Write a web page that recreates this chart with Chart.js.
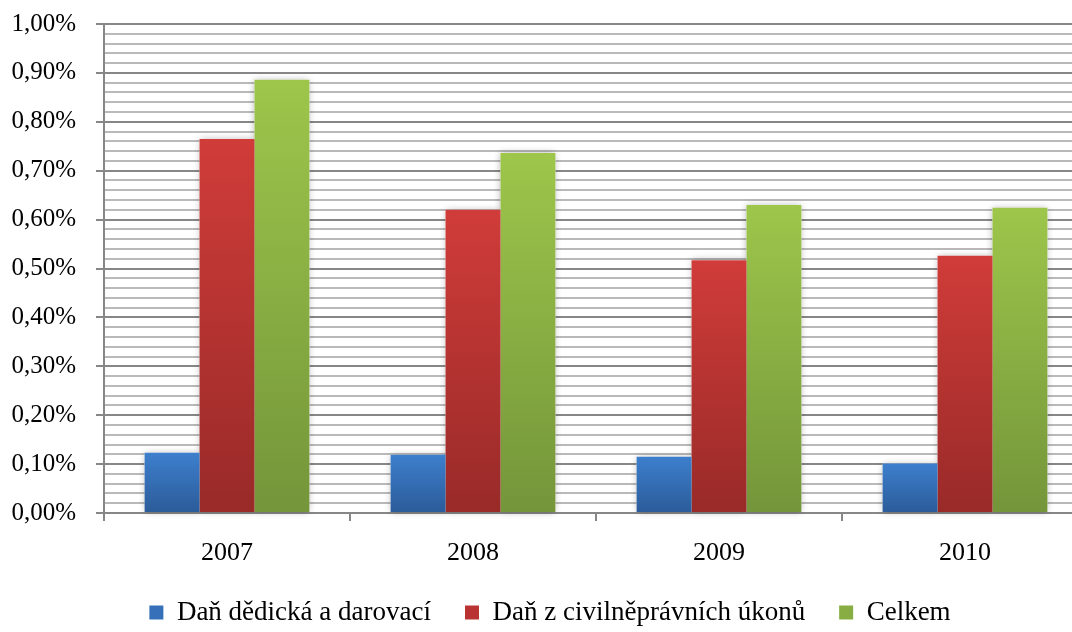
<!DOCTYPE html>
<html>
<head>
<meta charset="utf-8">
<script src="https://cdn.jsdelivr.net/npm/chart.js@4/dist/chart.umd.min.js"></script>
<style>
  html, body { margin: 0; padding: 0; background: #ffffff; overflow: hidden; }
  #wrap { position: relative; width: 1100px; height: 636px; }
</style>
</head>
<body>
<div id="wrap"><canvas id="chart"></canvas></div>
<script>
// Podíl daní na celkových daňových příjmech (v %)
const years = ['2007', '2008', '2009', '2010'];
const seriesNames = ['Daň dědická a darovací', 'Daň z civilněprávních úkonů', 'Celkem'];
const inheritanceGiftTax = [0.123, 0.119, 0.115, 0.101];
const civilTransferTax = [0.765, 0.620, 0.517, 0.526];
const totalShare = [0.886, 0.736, 0.630, 0.624];
const yTickLabels = ['0,00%', '0,10%', '0,20%', '0,30%', '0,40%', '0,50%',
                     '0,60%', '0,70%', '0,80%', '0,90%', '1,00%'];

// Bar fills: light at the top of each bar, darker at its base
const topColors = ['#3d7fcd', '#d03c39', '#9dc64b'];
const baseColors = ['#2b5b99', '#982a28', '#74953a'];
const legendColors = ['#3570b8', '#b83331', '#88ae43'];

const FONT = '"Liberation Serif", "Times New Roman", serif';
const MAJOR = '#878787';
const MINOR = '#b9b9b9';
const LEGEND_GAP = 34;

function barFill(i) {
  return (ctx) => {
    const chart = ctx.chart;
    const y = chart.scales && chart.scales.y;
    if (ctx.type !== 'data' || !y || !chart.chartArea) return baseColors[i];
    const top = y.getPixelForValue(ctx.raw);
    const base = y.getPixelForValue(0);
    if (!isFinite(top) || !isFinite(base) || top === base) return baseColors[i];
    const g = chart.ctx.createLinearGradient(0, top, 0, base);
    g.addColorStop(0, topColors[i]);
    g.addColorStop(1, baseColors[i]);
    return g;
  };
}

// Soft shadow behind every bar, painted before the bars themselves
const barShadow = {
  id: 'barShadow',
  beforeDatasetsDraw(chart) {
    const c = chart.ctx;
    c.save();
    c.fillStyle = '#ffffff';
    c.shadowColor = 'rgba(0,0,0,0.30)';
    c.shadowBlur = 7;
    chart.data.datasets.forEach((ds, i) => {
      chart.getDatasetMeta(i).data.forEach((bar) => {
        const p = bar.getProps(['x', 'y', 'base', 'width'], true);
        c.fillRect(p.x - p.width / 2, p.y, p.width, p.base - p.y);
      });
    });
    c.restore();
  }
};

// The category axis is kept short so the legend sits low; let its labels
// draw below that box instead of being clipped.
const labelRoom = {
  id: 'labelRoom',
  afterLayout(chart) {
    chart.scales.x.bottom = chart.height;
  }
};

const isMajor = (index) => index % 5 === 0;

new Chart(document.getElementById('chart'), {
  type: 'bar',
  data: {
    labels: years,
    datasets: [
      { label: seriesNames[0], data: inheritanceGiftTax, backgroundColor: barFill(0) },
      { label: seriesNames[1], data: civilTransferTax, backgroundColor: barFill(1) },
      { label: seriesNames[2], data: totalShare, backgroundColor: barFill(2) }
    ]
  },
  options: {
    responsive: true,
    maintainAspectRatio: false,
    animation: false,
    devicePixelRatio: 1,
    layout: { padding: { top: 0, left: 12, right: 12, bottom: 0 } },
    datasets: { bar: { categoryPercentage: 0.67, barPercentage: 1.0, borderWidth: 0 } },
    plugins: {
      tooltip: { enabled: false },
      legend: {
        position: 'bottom',
        labels: {
          boxWidth: 14,
          boxHeight: 14,
          padding: LEGEND_GAP,
          color: '#000000',
          font: { family: FONT, size: 27 },
          generateLabels(chart) {
            const items = Chart.defaults.plugins.legend.labels.generateLabels(chart);
            items.forEach((it, i) => {
              it.fillStyle = legendColors[i];
              it.strokeStyle = 'rgba(0,0,0,0)';
              it.lineWidth = 0;
            });
            return items;
          }
        }
      }
    },
    scales: {
      x: {
        afterFit(scale) { scale.height = 86 - LEGEND_GAP; },
        ticks: { padding: 17, color: '#000000', font: { family: FONT, size: 26 } },
        grid: { drawOnChartArea: false, drawTicks: true, tickLength: 8, color: MAJOR, lineWidth: 2 },
        border: { color: MAJOR, width: 2 }
      },
      y: {
        min: 0,
        max: 1,
        afterFit(scale) {
          scale.width = 92;
          scale.paddingTop = 24;
          scale.paddingBottom = 0;
        },
        ticks: {
          stepSize: 0.02,
          autoSkip: false,
          padding: 20,
          color: '#000000',
          font: { family: FONT, size: 25 },
          callback(value, index) { return isMajor(index) ? yTickLabels[index / 5] : ''; }
        },
        grid: {
          color: (ctx) => isMajor(ctx.index) ? MAJOR : MINOR,
          lineWidth: 2,
          tickLength: 8,
          tickWidth: 2,
          tickColor: (ctx) => isMajor(ctx.index) ? MAJOR : 'rgba(0,0,0,0)'
        },
        border: { color: MAJOR, width: 2 }
      }
    }
  },
  plugins: [barShadow, labelRoom]
});
</script>
</body>
</html>
